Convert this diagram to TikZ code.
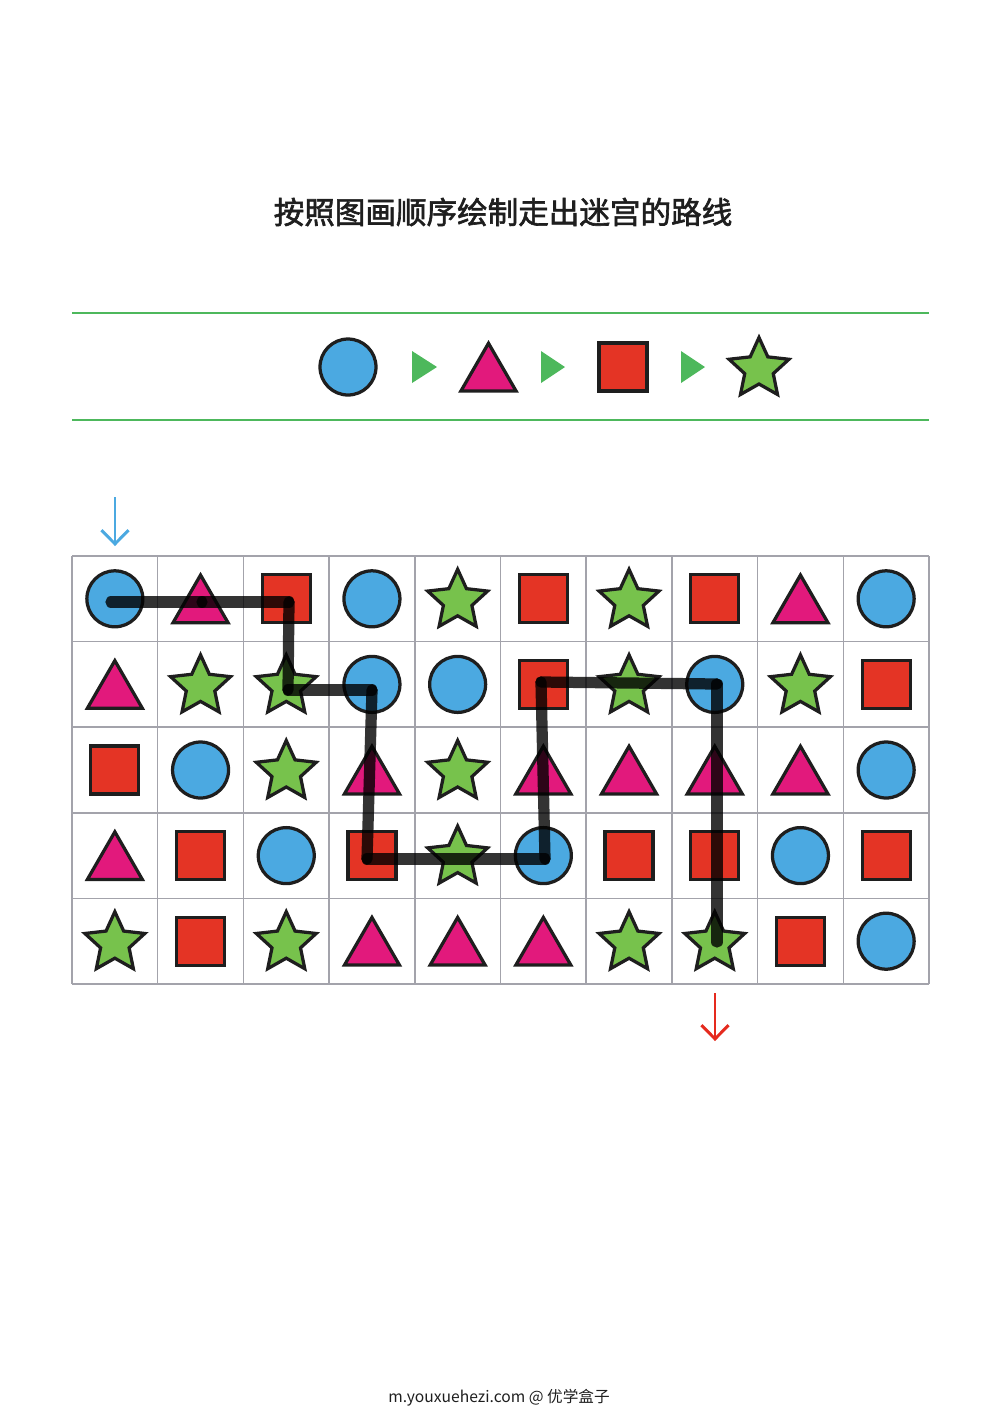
\documentclass[tikz,border=0pt]{standalone}
\usepackage{fontspec}
\newfontfamily\cjk{Noto Sans CJK SC}
\newfontfamily\cjkt[FakeBold=2]{Noto Sans CJK SC}
\usetikzlibrary{shapes.geometric,arrows.meta}
\definecolor{ink}{HTML}{1E1E1E}
\definecolor{cblue}{HTML}{4BA9E1}
\definecolor{cpink}{HTML}{E2197C}
\definecolor{cred}{HTML}{E43425}
\definecolor{cgreen}{HTML}{77C24C}
\definecolor{lgreen}{HTML}{4DB85C}
\definecolor{gridc}{HTML}{A3A3AB}
\definecolor{aredc}{HTML}{E52A1E}
\begin{document}
\begin{tikzpicture}[x=0.02cm,y=-0.02cm,
  shp/.style={draw=ink, line width=1.85pt, inner sep=0pt, outer sep=0pt},
  shC/.style={shp, circle, fill=cblue, minimum size=1.12cm},
  shS/.style={shp, rectangle, fill=cred, minimum size=0.96cm},
  shT/.style={shp, regular polygon, regular polygon sides=3, fill=cpink, minimum size=1.27cm, yshift=-0.16cm},
  shR/.style={shp, star, star points=5, star point ratio=2.1, fill=cgreen, minimum size=1.26cm, yshift=-0.04cm},
  pick/.style={sh#1},
  gridline/.style={draw=gridc, line width=0.85pt},
  greenline/.style={draw=lgreen, line width=0.9pt},
  legarrow/.style={fill=lgreen},
  route/.style={draw=black, line width=6.4pt, line cap=round, opacity=0.8},
  inarrow/.style={draw=cblue, line width=1.7pt, -{Straight Barb[length=7.8pt,width=15.5pt]}},
  outarrow/.style={draw=aredc, line width=1.7pt, -{Straight Barb[length=7.8pt,width=15.5pt]}}
]
\useasboundingbox (0,0) rectangle (1000,1414);

% title
\node[text=ink, font=\cjkt\fontsize{17.4}{20}\selectfont] (title) at (503,212) {按照图画顺序绘制走出迷宫的路线};

% legend
\draw[greenline] (72,313) -- (929,313);
\draw[greenline] (72,420) -- (929,420);
\node[shC] (l1) at (348,367) {};
\node[shT] (l2) at (488.5,367) {};
\node[shS] (l3) at (623,367) {};
\node[shR] (l4) at (759,367) {};
\fill[legarrow] (412,351) -- (437,367) -- (412,383) -- cycle;
\fill[legarrow] (541,351) -- (565,367) -- (541,383) -- cycle;
\fill[legarrow] (681,351) -- (705,367) -- (681,383) -- cycle;

% grid lines
\foreach \i in {0,...,10} \draw[gridline] ({72+85.7*\i},556) -- ({72+85.7*\i},984);
\foreach \j in {0,...,5} \draw[gridline] (72,{556+85.6*\j}) -- (929,{556+85.6*\j});

% grid shapes
\foreach \row [count=\r] in {{C,T,S,C,R,S,R,S,T,C},{T,R,R,C,C,S,R,C,R,S},{S,C,R,T,R,T,T,T,T,C},{T,S,C,S,R,C,S,S,C,S},{R,S,R,T,T,T,R,R,S,C}} {
  \foreach \s [count=\c] in \row {
    \node[pick/.expanded=\s] (g-\r-\c) at ({72+85.7*(\c-0.5)},{556+85.6*(\r-0.5)}) {};
  }
}

% route
\coordinate (p0) at (111,602);
\coordinate (p1) at (202,602);
\coordinate (p2) at (289,602);
\coordinate (p3) at (288,690);
\coordinate (p4) at (372,690);
\coordinate (p5) at (367,859);
\coordinate (p6) at (545,859);
\coordinate (p7) at (541,682);
\coordinate (p8) at (717,684);
\coordinate (p9) at (717,942);
\draw[route] (p0) -- (p1);
\draw[route] (p1) -- (p2);
\draw[route] (p2) -- (p3);
\draw[route] (p3) -- (p4);
\draw[route] (p4) -- (p5);
\draw[route] (p5) -- (p6);
\draw[route] (p6) -- (p7);
\draw[route] (p7) -- (p8);
\draw[route] (p8) -- (p9);

% entry / exit arrows
\coordinate (ina) at (115,497);
\coordinate (inb) at (115,546);
\draw[inarrow] (ina) -- (inb);
\coordinate (outa) at (715,993);
\coordinate (outb) at (715,1041);
\draw[outarrow] (outa) -- (outb);

% footer
\node[text=ink, font=\cjk\fontsize{8.9}{10}\selectfont] (foot) at (499,1398) {m.youxuehezi.com @ 优学盒子};
\end{tikzpicture}
\end{document}
